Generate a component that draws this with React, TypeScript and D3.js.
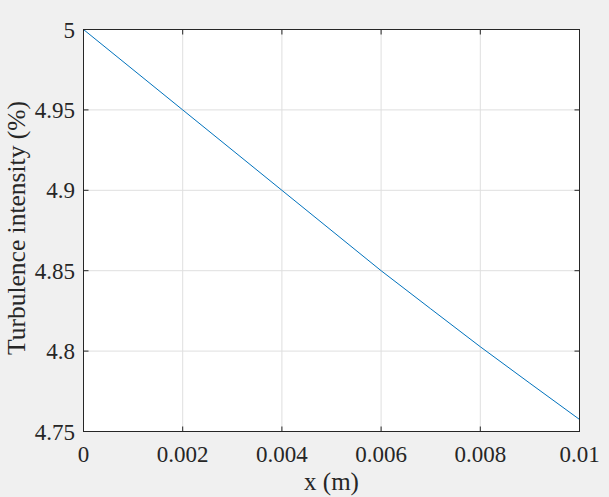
import React from "react";
import * as d3 from "d3";

const xValues = [0, 0.002, 0.004, 0.006, 0.007, 0.008, 0.009, 0.01];
const yValues = [5, 4.95, 4.9, 4.85, 4.8263, 4.8027, 4.78, 4.7575];
const xTicks = [0, 0.002, 0.004, 0.006, 0.008, 0.01];
const xTickLabels = ["0", "0.002", "0.004", "0.006", "0.008", "0.01"];
const yTicks = [4.75, 4.8, 4.85, 4.9, 4.95, 5];
const yTickLabels = ["4.75", "4.8", "4.85", "4.9", "4.95", "5"];
const xLabel = "x (m)";
const yLabel = "Turbulence intensity (%)";

const W = 609;
const H = 497;
const L = 83.5;
const R = 579.5;
const T = 29.5;
const B = 431.5;
const FONT = "'Liberation Serif', 'Times New Roman', serif";
const TXT = "#262626";

export default function App() {
  const x = d3.scaleLinear().domain([0, 0.01]).range([L, R]);
  const y = d3.scaleLinear().domain([4.75, 5]).range([B, T]);
  const line = d3
    .line<number>()
    .x((_, i) => x(xValues[i]))
    .y((d) => y(d));
  const tl = 5;
  return (
    <svg
      width={W}
      height={H}
      style={{ position: "absolute", left: 0, top: 0, background: "#f0f0f0" }}
    >
      <rect x={0} y={0} width={W} height={H} fill="#f0f0f0" />
      <rect x={L} y={T} width={R - L} height={B - T} fill="#ffffff" />
      {xTicks.map((t, i) => (
        <line key={"gx" + i} x1={x(t)} x2={x(t)} y1={T} y2={B} stroke="#dfdfdf" strokeWidth={1} />
      ))}
      {yTicks.map((t, i) => (
        <line key={"gy" + i} x1={L} x2={R} y1={y(t)} y2={y(t)} stroke="#dfdfdf" strokeWidth={1} />
      ))}
      <path d={line(yValues) || ""} fill="none" stroke="#0072BD" strokeWidth={1} />
      {xTicks.map((t, i) => (
        <g key={"tx" + i}>
          <line x1={x(t)} x2={x(t)} y1={B} y2={B - tl} stroke={TXT} />
          <line x1={x(t)} x2={x(t)} y1={T} y2={T + tl} stroke={TXT} />
          <text
            x={x(t)}
            y={462}
            textAnchor="middle"
            fontFamily={FONT}
            fontSize={23}
            fill={TXT}
          >
            {xTickLabels[i]}
          </text>
        </g>
      ))}
      {yTicks.map((t, i) => (
        <g key={"ty" + i}>
          <line x1={L} x2={L + tl} y1={y(t)} y2={y(t)} stroke={TXT} />
          <line x1={R} x2={R - tl} y1={y(t)} y2={y(t)} stroke={TXT} />
          <text
            x={75}
            y={y(t) + 8}
            textAnchor="end"
            fontFamily={FONT}
            fontSize={23}
            fill={TXT}
          >
            {yTickLabels[i]}
          </text>
        </g>
      ))}
      <rect x={L} y={T} width={R - L} height={B - T} fill="none" stroke={TXT} strokeWidth={1} />
      <text x={(L + R) / 2} y={490} textAnchor="middle" fontFamily={FONT} fontSize={25} fill={TXT}>
        {xLabel}
      </text>
      <text
        transform={`translate(25, 228) rotate(-90)`}
        textAnchor="middle"
        fontFamily={FONT}
        fontSize={25.5}
        fill={TXT}
      >
        {yLabel}
      </text>
    </svg>
  );
}
